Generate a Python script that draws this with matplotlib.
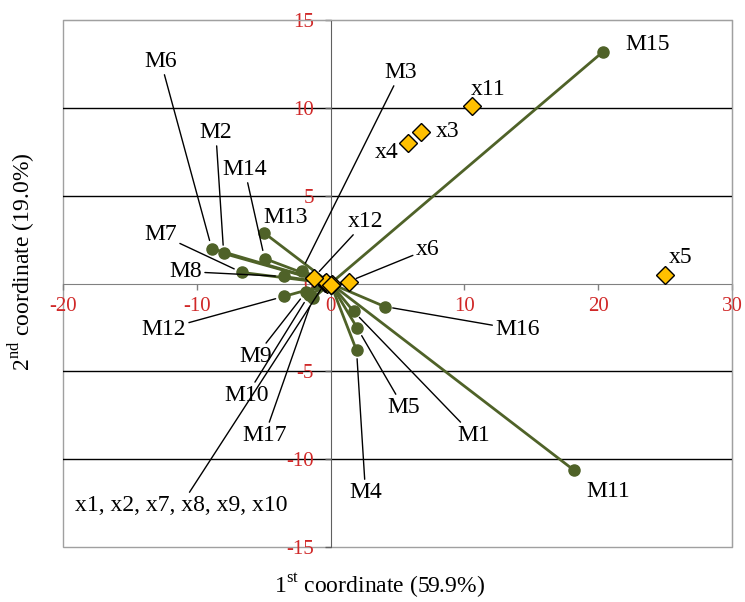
import matplotlib
matplotlib.use("Agg")
import matplotlib.pyplot as plt
from matplotlib.patches import Rectangle

plt.rcParams["font.family"] = ["Liberation Serif", "DejaVu Serif"]
plt.rcParams["mathtext.fontset"] = "custom"
plt.rcParams["mathtext.rm"] = "Liberation Serif"
plt.rcParams["axes.unicode_minus"] = False

# variable loadings (green vectors)
m_names = ["M1", "M2", "M3", "M4", "M5", "M6", "M7", "M8", "M9",
           "M10", "M11", "M12", "M13", "M14", "M15", "M16", "M17"]
m_x = [1.72, -7.99, -2.16, 1.94, 2.01, -8.88, -6.64, -3.51, -1.87,
       -1.64, 18.21, -3.51, -5.00, -4.93, 20.37, 4.03, -1.34]
m_y = [-1.59, 1.71, 0.74, -3.81, -2.56, 1.99, 0.63, 0.40, -0.51,
       -0.68, -10.64, -0.74, 2.90, 1.42, 13.20, -1.31, -0.85]

# object scores (yellow diamonds)
x_names = ["x1", "x2", "x3", "x4", "x5", "x6", "x7", "x8", "x9",
           "x10", "x11", "x12"]
x_x = [-0.40, 0.05, 6.72, 5.82, 25.00, 1.34, -0.30, 0.10, -0.35,
       0.00, 10.60, -1.27]
x_y = [0.05, -0.10, 8.65, 8.02, 0.46, 0.11, 0.00, -0.05, 0.10,
       -0.10, 10.13, 0.34]

# label placement: (text x, text y, leader line?)
m_label_pos = {
    "M1": (10.67, -8.65, True), "M2": (-8.58, 8.59, True),
    "M3": (5.22, 12.01, True), "M4": (2.61, -11.9, True),
    "M5": (5.45, -7.06, True), "M6": (-12.69, 12.64, True),
    "M7": (-12.69, 2.79, True), "M8": (-10.82, 0.68, True),
    "M9": (-5.6, -4.15, True), "M10": (-6.27, -6.37, True),
    "M11": (20.75, -11.84, False), "M12": (-12.46, -2.62, True),
    "M13": (-3.36, 3.76, False), "M14": (-6.42, 6.49, True),
    "M15": (23.73, 13.6, False), "M16": (13.96, -2.62, True),
    "M17": (-4.93, -8.65, True),
}
x_label_pos = {
    "x3": (8.73, 8.65, False), "x4": (4.18, 7.46, False),
    "x5": (26.19, 1.48, False), "x6": (7.24, 1.94, True),
    "x11": (11.79, 11.04, False), "x12": (2.61, 3.53, True),
}
cluster_names = ["x1", "x2", "x7", "x8", "x9", "x10"]
cluster_label_pos = (-11.19, -12.64)

green = "#4F6228"
gold = "#FFC000"
red = "#D02828"
frame_gray = "#A0A0A0"

fig = plt.figure(figsize=(7.45, 6.02), dpi=100)
ax = fig.add_axes([63 / 745, 1 - 547 / 602, (732 - 63) / 745, (547 - 20) / 602])

ax.set_xlim(-20, 30)
ax.set_ylim(-15, 15)

# horizontal gridlines
yticks = [-15, -10, -5, 0, 5, 10, 15]
for yv in yticks[1:-1]:
    if yv != 0:
        ax.axhline(yv, color="black", lw=1.0, zorder=1)

# frame
for side in ["top", "right"]:
    ax.spines[side].set_color(frame_gray)
ax.add_patch(Rectangle((0, 0), 1, 1, transform=ax.transAxes, fill=False,
                       edgecolor=frame_gray, lw=1.0, zorder=0.5, clip_on=False))
ax.spines["left"].set_position(("data", 0))
ax.spines["bottom"].set_position(("data", 0))
ax.spines["left"].set_color("#606060")
ax.spines["bottom"].set_color("#808080")
ax.spines["left"].set_zorder(1.5)
ax.spines["bottom"].set_zorder(1.5)

ax.set_xticks([-20, -10, 0, 10, 20, 30])
ax.set_yticks(yticks)
ax.tick_params(axis="both", direction="out", length=4, width=1,
               labelcolor=red, labelsize=15)
ax.tick_params(axis="x", colors="#808080", labelcolor=red, pad=6)
ax.tick_params(axis="y", colors="#606060", labelcolor=red, pad=8)

# vectors from origin
for mx, my in zip(m_x, m_y):
    ax.plot([0, mx], [0, my], color=green, lw=2.0, zorder=2,
            solid_capstyle="round")
ax.plot(m_x, m_y, "o", color=green, ms=8, zorder=3)
ax.plot(x_x, x_y, "D", color=gold, mec="black", mew=1.0, ms=9, zorder=4)

fs = 17
line_kw = dict(arrowstyle="-", color="black", lw=1.0, shrinkA=0, shrinkB=6)


def place(name, px, py, tx, ty, leader):
    ax.annotate(name, xy=(px, py), xytext=(tx, ty), fontsize=fs,
                ha="center", va="center", zorder=5,
                arrowprops=line_kw if leader else None)


for name, mx, my in zip(m_names, m_x, m_y):
    tx, ty, leader = m_label_pos[name]
    place(name, mx, my, tx, ty, leader)

for name, px, py in zip(x_names, x_x, x_y):
    if name in x_label_pos:
        tx, ty, leader = x_label_pos[name]
        place(name, px, py, tx, ty, leader)

ci = x_names.index("x1")
place(", ".join(cluster_names), x_x[ci], x_y[ci],
      cluster_label_pos[0], cluster_label_pos[1], True)

fig.text(380 / 745, 1 - 586 / 602, "1$^{\\mathrm{st}}$ coordinate (59.9%)",
         fontsize=fs, ha="center", va="center")
fig.text(22 / 745, 1 - 262 / 602, "2$^{\\mathrm{nd}}$ coordinate (19.0%)",
         fontsize=fs, ha="center", va="center", rotation=90)

fig.savefig("out.png", dpi=100)
